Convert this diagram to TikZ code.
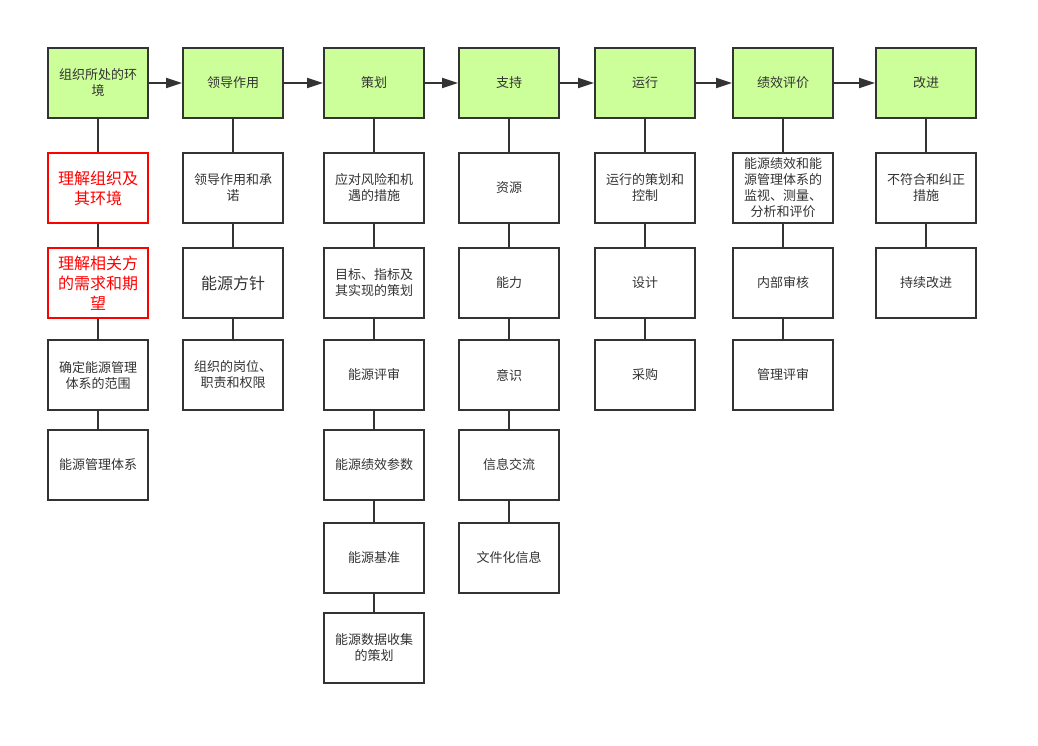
\documentclass[tikz,border=0pt]{standalone}
\usepackage{fontspec}
\setmainfont{Noto Sans CJK SC}
\usetikzlibrary{arrows.meta}
\definecolor{ink}{HTML}{333333}
\definecolor{leaf}{HTML}{CCFF99}
\definecolor{alert}{HTML}{FF0000}
\begin{document}
\begin{tikzpicture}[x=1pt,y=-1pt,
  box/.style={draw=ink,line width=2pt,fill=white,minimum width=100pt,minimum height=70pt,
    inner sep=0pt,align=center,text=ink,font=\fontsize{13}{16}\selectfont},
  head/.style={box,fill=leaf},
  redbox/.style={box,draw=alert,text=alert,font=\fontsize{16}{20}\selectfont},
  bigtext/.style={font=\fontsize{16}{20}\selectfont},
  link/.style={draw=ink,line width=2pt},
  flow/.style={draw=ink,line width=2pt,-{Triangle[length=16pt,width=10pt]}}]
\useasboundingbox (0,0) rectangle (1038,745);
% column 1
\node[head] (a1) at (98,83) {组织所处的环\\境};
\node[redbox] (a2) at (98,188) {理解组织及\\其环境};
\node[redbox] (a3) at (98,283) {理解相关方\\的需求和期\\望};
\node[box] (a4) at (98,375) {确定能源管理\\体系的范围};
\node[box] (a5) at (98,465) {能源管理体系};
% column 2
\node[head] (b1) at (233,83) {领导作用};
\node[box] (b2) at (233,188) {领导作用和承\\诺};
\node[box,bigtext] (b3) at (233,283) {能源方针};
\node[box] (b4) at (233,375) {组织的岗位、\\职责和权限};
% column 3
\node[head] (c1) at (374,83) {策划};
\node[box] (c2) at (374,188) {应对风险和机\\遇的措施};
\node[box] (c3) at (374,283) {目标、指标及\\其实现的策划};
\node[box] (c4) at (374,375) {能源评审};
\node[box] (c5) at (374,465) {能源绩效参数};
\node[box] (c6) at (374,558) {能源基准};
\node[box] (c7) at (374,648) {能源数据收集\\的策划};
% column 4
\node[head] (d1) at (509,83) {支持};
\node[box] (d2) at (509,188) {资源};
\node[box] (d3) at (509,283) {能力};
\node[box] (d4) at (509,375) {意识};
\node[box] (d5) at (509,465) {信息交流};
\node[box] (d6) at (509,558) {文件化信息};
% column 5
\node[head] (e1) at (645,83) {运行};
\node[box] (e2) at (645,188) {运行的策划和\\控制};
\node[box] (e3) at (645,283) {设计};
\node[box] (e4) at (645,375) {采购};
% column 6
\node[head] (f1) at (783,83) {绩效评价};
\node[box] (f2) at (783,188) {能源绩效和能\\源管理体系的\\监视、测量、\\分析和评价};
\node[box] (f3) at (783,283) {内部审核};
\node[box] (f4) at (783,375) {管理评审};
% column 7
\node[head] (g1) at (926,83) {改进};
\node[box] (g2) at (926,188) {不符合和纠正\\措施};
\node[box] (g3) at (926,283) {持续改进};
% arrows
\draw[flow] (a1) -- (b1);
\draw[flow] (b1) -- (c1);
\draw[flow] (c1) -- (d1);
\draw[flow] (d1) -- (e1);
\draw[flow] (e1) -- (f1);
\draw[flow] (f1) -- (g1);
% vertical links
\draw[link] (a1) -- (a2) (a2) -- (a3) (a3) -- (a4) (a4) -- (a5);
\draw[link] (b1) -- (b2) (b2) -- (b3) (b3) -- (b4);
\draw[link] (c1) -- (c2) (c2) -- (c3) (c3) -- (c4) (c4) -- (c5) (c5) -- (c6) (c6) -- (c7);
\draw[link] (d1) -- (d2) (d2) -- (d3) (d3) -- (d4) (d4) -- (d5) (d5) -- (d6);
\draw[link] (e1) -- (e2) (e2) -- (e3) (e3) -- (e4);
\draw[link] (f1) -- (f2) (f2) -- (f3) (f3) -- (f4);
\draw[link] (g1) -- (g2) (g2) -- (g3);
\end{tikzpicture}
\end{document}
